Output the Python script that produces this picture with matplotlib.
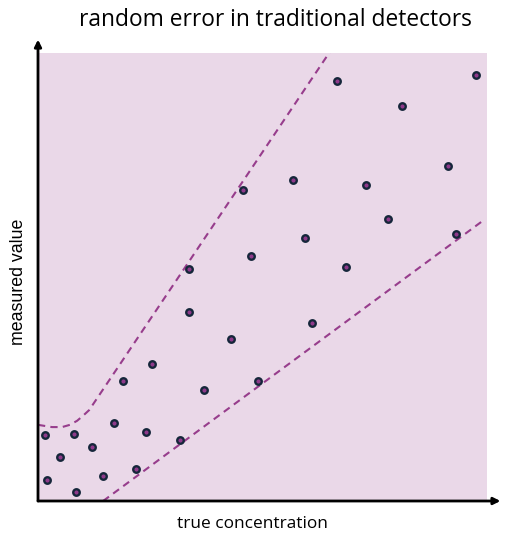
import numpy as np
import matplotlib
matplotlib.use("Agg")
import matplotlib.pyplot as plt

# scatter points (x = true concentration, y = measured value), 0-100 units
conc = [2, 1.5, 5, 8.5, 8, 12, 14.5, 17, 19, 21.8, 24, 25.4, 31.6,
        33.6, 33.6, 37, 43, 45.7, 47.4, 49, 56.8, 59.5, 61, 66.6, 68.6,
        73, 78, 81, 91.4, 93, 97.5]
meas = [4.7, 14.7, 9.8, 2, 14.9, 12, 5.5, 17.4, 26.8, 7.1, 15.4, 30.6, 13.6,
        51.8, 42.2, 24.8, 36.1, 69.4, 54.7, 26.8, 71.6, 58.7, 39.7, 93.8, 52.2,
        70.5, 62.9, 88.2, 74.8, 59.6, 95.1]

# upper and lower error bounds
upper_x = [0, 3.1, 5.35, 7.1, 8.7, 10.0, 11.4, 65.3]
upper_y = [17.0, 16.5, 16.5, 17.0, 17.9, 19.0, 20.3, 100.7]
lower_x = [14.5, 99]
lower_y = [0, 62.5]

bg = "#EAD8E8"
dash_c = "#973D8C"
dot_face = "#8E3A8A"
dot_edge = "#15263A"

fig = plt.figure(figsize=(5.15, 5.4), dpi=100)
ax = fig.add_axes([38/515, 39/540, 449/515, 448/540])
ax.set_facecolor(bg)
ax.set_xlim(0, 100)
ax.set_ylim(0, 100)

ax.plot(upper_x, upper_y, ls=(0, (3.5, 2.5)), color=dash_c, lw=1.5)
ax.plot(lower_x, lower_y, ls=(0, (3.5, 2.5)), color=dash_c, lw=1.5)
ax.scatter(conc, meas, s=22, c=dot_face, edgecolors=dot_edge, linewidths=1.7, zorder=3)

for s in ax.spines.values():
    s.set_visible(False)
ax.set_xticks([])
ax.set_yticks([])

# axis arrows
ax.annotate("", xy=(0, 1.03), xytext=(0, 0), xycoords="axes fraction",
            arrowprops=dict(arrowstyle="-|>", color="black", lw=2,
                            mutation_scale=10, shrinkA=0, shrinkB=0),
            annotation_clip=False)
ax.annotate("", xy=(1.03, 0), xytext=(0, 0), xycoords="axes fraction",
            arrowprops=dict(arrowstyle="-|>", color="black", lw=2,
                            mutation_scale=10, shrinkA=0, shrinkB=0),
            annotation_clip=False)

fig.text(0.534, 0.963, "random error in traditional detectors", ha="center",
         va="center", fontsize=16.4, family="Open Sans")
fig.text(0.491, 0.030, "true concentration", ha="center", va="center",
         fontsize=12.4, family="Open Sans")
fig.text(0.036, 0.479, "measured value", ha="center", va="center",
         rotation=90, fontsize=12.8, family="Liberation Sans")

fig.savefig("out.png", dpi=100)
